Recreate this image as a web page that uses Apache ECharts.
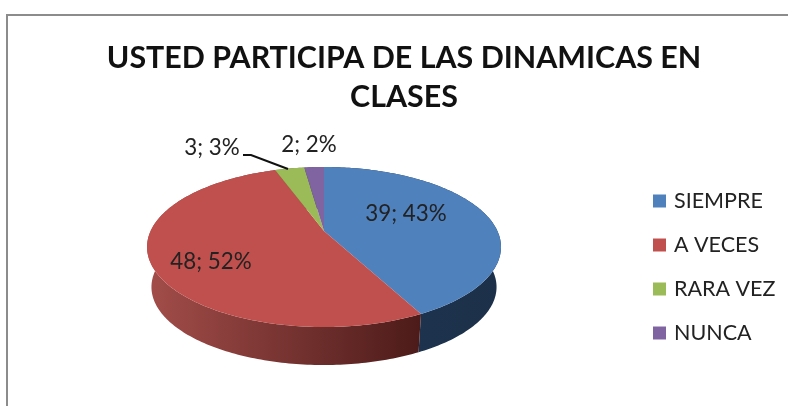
<!DOCTYPE html>
<html>
<head>
<meta charset="utf-8">
<style>
  html, body { margin: 0; padding: 0; background: #fff; }
  #main { width: 788px; height: 406px; }
</style>
<script src="https://cdn.jsdelivr.net/npm/echarts@6/dist/echarts.min.js"></script>
</head>
<body>
<div id="main"></div>
<script>
const categories = ['SIEMPRE', 'A VECES', 'RARA VEZ', 'NUNCA']
const values = [39, 48, 3, 2]
const percents = [43, 52, 3, 2]
const colors = ['#4F81BD', '#C0504D', '#9BBB59', '#8064A2']
// side wall gradient, left to right
const sideColors = [
  ['#1F3552', '#1C3049'],
  ['#A34D4A', '#4C1B19'],
  ['#5E7335', '#5E7335'],
  ['#4C3B62', '#4C3B62']
]
const labelPos = [[406, 214], [211, 262], [212, 148], [309, 145]]

// tilted pie projection, top face and bottom rim
const cx = 324
const apexY = 231
const perspective = 0.2
const scaleX = 173.4
const scaleY = 76.8
const bottomScale = 0.975
const bottomShift = 40.4

const total = values.reduce((a, b) => a + b, 0)

function project(deg, k, shift) {
  const rad = (deg * Math.PI) / 180
  const s = Math.sin(rad)
  const t = -Math.cos(rad)
  const d = 1 - perspective * t
  return [cx + (k * scaleX * s) / d, apexY + shift + (k * scaleY * t) / d]
}

function arcPoints(from, to, k, shift) {
  const pts = []
  const n = Math.max(2, Math.ceil(to - from))
  for (let i = 0; i <= n; i++) {
    pts.push(project(from + ((to - from) * i) / n, k, shift))
  }
  return pts
}

function sliceSeries(name, idx) {
  const before = values.slice(0, idx).reduce((a, b) => a + b, 0)
  return {
    name: name,
    type: 'custom',
    coordinateSystem: 'none',
    data: [values[idx]],
    silent: true,
    renderItem: function (params, api) {
      const from = (before / total) * 360
      const to = ((before + api.value(0)) / total) * 360
      const top = arcPoints(from, to, 1, 0)
      const bottom = arcPoints(from, to, bottomScale, bottomShift).reverse()
      return {
        type: 'group',
        children: [
          {
            type: 'polygon',
            z2: 1,
            shape: { points: top.concat(bottom) },
            style: {
              fill: new echarts.graphic.LinearGradient(0, 0, 1, 0, [
                { offset: 0, color: sideColors[idx][0] },
                { offset: 1, color: sideColors[idx][1] }
              ])
            }
          },
          {
            type: 'polygon',
            z2: 2,
            shape: { points: [[cx, apexY]].concat(top) },
            style: { fill: colors[idx] }
          },
          {
            type: 'text',
            z2: 3,
            x: labelPos[idx][0],
            y: labelPos[idx][1],
            style: {
              text: api.value(0) + '; ' + percents[idx] + '%',
              font: '22.4px Lato, "Open Sans", sans-serif',
              fill: '#222',
              align: 'center',
              verticalAlign: 'middle'
            }
          }
        ]
      }
    }
  }
}

const myChart = echarts.init(document.getElementById('main'), null, { renderer: 'canvas' })
const option = {
  animation: false,
  backgroundColor: '#fff',
  color: colors,
  title: {
    text: 'USTED PARTICIPA DE LAS DINAMICAS EN\nCLASES',
    left: 399,
    top: 34,
    textAlign: 'center',
    textStyle: {
      fontFamily: 'Lato, "Open Sans", sans-serif',
      fontWeight: 'bold',
      fontSize: 30.4,
      lineHeight: 39,
      color: '#111'
    }
  },
  legend: {
    data: categories,
    orient: 'vertical',
    left: 653,
    top: 190,
    padding: 0,
    icon: 'rect',
    itemWidth: 13,
    itemHeight: 13,
    itemGap: 22,
    selectedMode: false,
    textStyle: {
      fontFamily: 'Lato, "Open Sans", sans-serif',
      fontSize: 21.5,
      color: '#222',
      padding: [0, 0, 0, 3]
    }
  },
  series: categories.map(sliceSeries),
  graphic: [
    {
      type: 'polyline',
      silent: true,
      shape: { points: [[7, 406], [7, 15], [788, 15]] },
      style: { stroke: '#8C8C8C', lineWidth: 2, fill: null }
    },
    {
      type: 'polyline',
      silent: true,
      z: 10,
      shape: { points: [[243, 155], [251, 155], [288, 169]] },
      style: { stroke: '#111', lineWidth: 2, fill: null }
    }
  ]
}
myChart.setOption(option)
</script>
</body>
</html>
